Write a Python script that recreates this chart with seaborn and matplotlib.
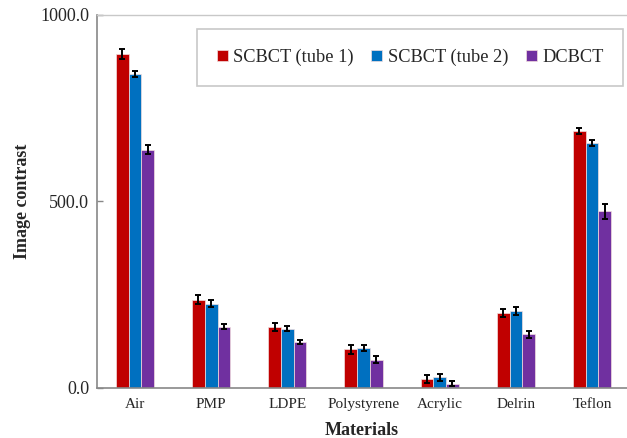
import pandas as pd
import numpy as np
import matplotlib.pyplot as plt
import seaborn as sns

# values
materials = ['Air', 'PMP', 'LDPE', 'Polystyrene', 'Acrylic', 'Delrin', 'Teflon']
series_names = ['SCBCT (tube 1)', 'SCBCT (tube 2)', 'DCBCT']
tube1 = [896, 237, 164, 104, 24, 201, 689]
tube2 = [842, 226, 159, 107, 29, 206, 657]
dcbct = [639, 164, 123, 76, 12, 144, 474]
tube1_err = [13, 11, 10, 12, 10, 10, 8]
tube2_err = [7, 9, 7, 9, 9, 10, 9]
dcbct_err = [12, 7, 6, 9, 7, 9, 20]
colors = ['#C00000', '#0070C0', '#7030A0']

rows = []
for name, vals in zip(series_names, [tube1, tube2, dcbct]):
    for m, v in zip(materials, vals):
        rows.append({'Materials': m, 'Series': name, 'Value': v})
df = pd.DataFrame(rows)

sns.set_style('white')
plt.rcParams['font.family'] = ['Liberation Serif', 'DejaVu Serif']

fig = plt.figure(figsize=(6.27, 4.38), dpi=100)
ax = fig.add_axes([0.1547, 0.1142, 0.8453, 0.8516])

sns.barplot(data=df, x='Materials', y='Value', hue='Series', order=materials,
            hue_order=series_names, palette=colors, saturation=1, width=0.5, gap=0,
            errorbar=None, edgecolor='#f3dede', linewidth=0.5, ax=ax)

# error bars on top of each bar
for cont, errs in zip(ax.containers, [tube1_err, tube2_err, dcbct_err]):
    xs = [p.get_x() + p.get_width() / 2 for p in cont.patches]
    hs = [p.get_height() for p in cont.patches]
    ax.errorbar(xs, hs, yerr=errs, fmt='none', ecolor='black',
                elinewidth=1.4, capsize=2, capthick=1.4)

ax.set_ylim(0, 1000)
ax.set_xlim(-0.499, 6.459)
ax.set_yticks([0, 500, 1000])
ax.set_yticklabels(['0.0', '500.0', '1000.0'], fontsize=13)
ax.tick_params(axis='x', labelsize=11, length=0, pad=7)
ax.tick_params(axis='y', left=True, length=4, width=1, color='#888888',
               direction='in', pad=5.5)
ax.set_xlabel('Materials', fontsize=13, fontweight='bold', labelpad=8)
ax.set_ylabel('Image contrast', fontsize=13, fontweight='bold', labelpad=7)

ax.spines['right'].set_visible(False)
ax.spines['top'].set_color('#c8c8c8')
ax.spines['top'].set_linewidth(1.0)
for side in ['left', 'bottom']:
    ax.spines[side].set_color('#888888')
    ax.spines[side].set_linewidth(1.2)

leg = ax.legend(loc='upper right', bbox_to_anchor=(0.9925, 0.9625), borderaxespad=0,
                ncol=3, fontsize=13.2, frameon=True, fancybox=False, edgecolor='#bbbbbb',
                handlelength=0.6, handleheight=0.5, handletextpad=0.3,
                columnspacing=0.95, borderpad=1.07)
leg.get_frame().set_linewidth(1.2)

fig.savefig('out.png', dpi=100)
